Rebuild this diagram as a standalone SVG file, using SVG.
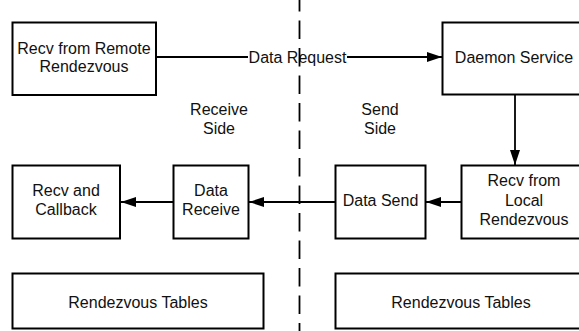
<svg xmlns="http://www.w3.org/2000/svg" width="579" height="331" viewBox="0 0 579 331">
<style>
.box{fill:#fff;stroke:#000;stroke-width:2}
.t{font-family:"Liberation Sans",Arial,sans-serif;font-size:16px;fill:#111;text-anchor:middle}
.c{fill:none;stroke:#000;stroke-width:1.8}
.dash{fill:none;stroke:#000;stroke-width:1.8;stroke-dasharray:18.5 9}
</style>
<defs>
<marker id="ah" markerWidth="15" markerHeight="10" refX="15" refY="5" orient="auto" markerUnits="userSpaceOnUse">
<path d="M0,0 L15,5 L0,10 Z" fill="#000"/>
</marker>
</defs>
<rect width="579" height="331" fill="#fff"/>
<g id="connectors">
<line class="c" x1="156" y1="57" x2="248" y2="57"/>
<line class="c" x1="347" y1="57" x2="442" y2="57" marker-end="url(#ah)"/>
<line class="c" x1="515" y1="95" x2="515" y2="165" marker-end="url(#ah)"/>
<line class="c" x1="461" y1="202" x2="426" y2="202" marker-end="url(#ah)"/>
<line class="c" x1="335" y1="202" x2="249" y2="202" marker-end="url(#ah)"/>
<line class="c" x1="173" y1="202" x2="121" y2="202" marker-end="url(#ah)"/>
<text class="t" x="297.5" y="62.5">Data Request</text>
</g>
<g id="divider">
<line class="dash" x1="299.5" y1="-7" x2="299.5" y2="331"/>
</g>
<g id="remote">
<rect class="box" x="12.5" y="22.5" width="143.5" height="72.5"/>
<text class="t" x="84" y="53.5">Recv from Remote</text>
<text class="t" x="84" y="72">Rendezvous</text>
</g>
<g id="daemon">
<rect class="box" x="442.5" y="22.5" width="144" height="72"/>
<text class="t" x="514" y="62.5">Daemon Service</text>
</g>
<g id="receive-side">
<text class="t" x="219" y="115">Receive</text>
<text class="t" x="219" y="134.3">Side</text>
</g>
<g id="send-side">
<text class="t" x="380" y="115">Send</text>
<text class="t" x="380" y="134.3">Side</text>
</g>
<g id="callback">
<rect class="box" x="12.5" y="165.5" width="107.5" height="73"/>
<text class="t" x="66" y="195.7">Recv and</text>
<text class="t" x="66" y="215">Callback</text>
</g>
<g id="data-receive">
<rect class="box" x="173.5" y="165.5" width="75" height="73"/>
<text class="t" x="211" y="195.7">Data</text>
<text class="t" x="211" y="215">Receive</text>
</g>
<g id="data-send">
<rect class="box" x="335.5" y="165.5" width="90" height="73"/>
<text class="t" x="380.5" y="206">Data Send</text>
</g>
<g id="local">
<rect class="box" x="461.5" y="165.5" width="125" height="73"/>
<text class="t" x="524" y="186">Recv from</text>
<text class="t" x="524" y="205.5">Local</text>
<text class="t" x="524" y="224.5">Rendezvous</text>
</g>
<g id="tables-left">
<rect class="box" x="12.5" y="273.5" width="251" height="55"/>
<text class="t" x="138" y="307.5">Rendezvous Tables</text>
</g>
<g id="tables-right">
<rect class="box" x="335.5" y="273.5" width="251" height="55"/>
<text class="t" x="461" y="307.5">Rendezvous Tables</text>
</g>
</svg>
